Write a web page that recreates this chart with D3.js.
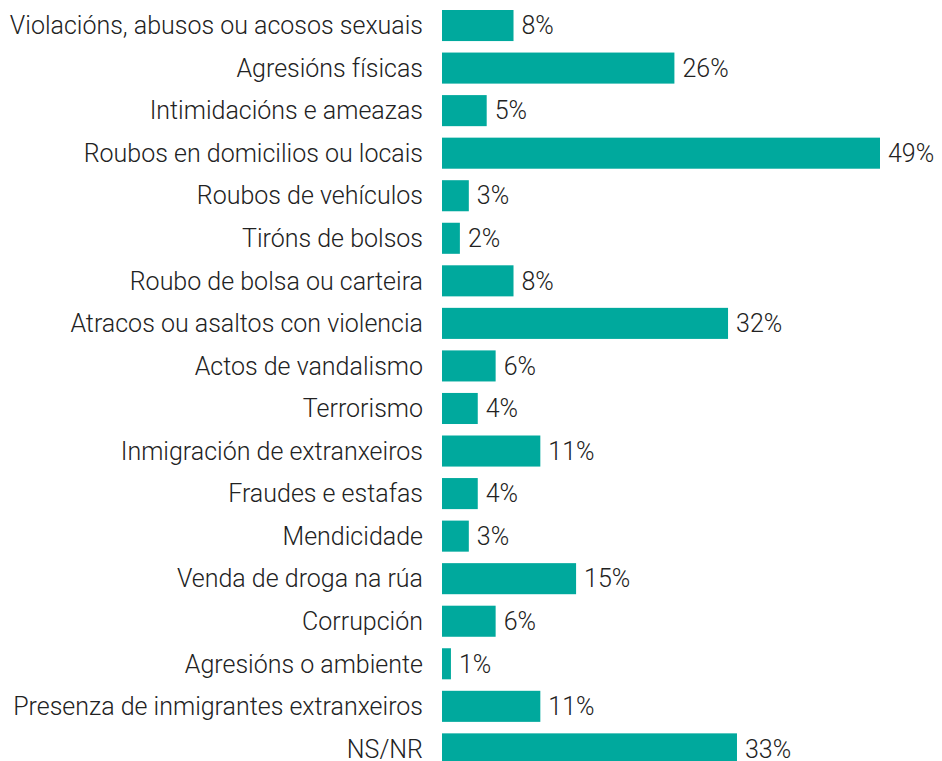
<!DOCTYPE html>
<html>
<head>
<meta charset="utf-8">
<script src="https://cdn.jsdelivr.net/npm/d3@7"></script>
<style>
  body { margin: 0; background: #fff; }
  text { font-family: Roboto, sans-serif; font-weight: 300; }
</style>
</head>
<body>
<div id="chart"></div>
<script>
// Data
const categories = [
  "Violacións, abusos ou acosos sexuais",
  "Agresións físicas",
  "Intimidacións e ameazas",
  "Roubos en domicilios ou locais",
  "Roubos de vehículos",
  "Tiróns de bolsos",
  "Roubo de bolsa ou carteira",
  "Atracos ou asaltos con violencia",
  "Actos de vandalismo",
  "Terrorismo",
  "Inmigración de extranxeiros",
  "Fraudes e estafas",
  "Mendicidade",
  "Venda de droga na rúa",
  "Corrupción",
  "Agresións o ambiente",
  "Presenza de inmigrantes extranxeiros",
  "NS/NR"
];
const values = [8, 26, 5, 49, 3, 2, 8, 32, 6, 4, 11, 4, 3, 15, 6, 1, 11, 33];

const width = 942, height = 761;

const svg = d3.select("#chart")
  .append("svg")
  .attr("width", width)
  .attr("height", height);

// Scales
const step = 42.55;
const x = d3.scaleLinear()
  .domain([0, 49])
  .range([442, 880]);

const y = d3.scaleBand()
  .domain(categories)
  .range([10, 10 + step * (categories.length - 0.27)])
  .paddingInner(0.27)
  .paddingOuter(0);

const rows = svg.selectAll("g.row")
  .data(categories.map((c, i) => ({ cat: c, val: values[i] })))
  .join("g")
  .attr("class", "row");

// Bars
rows.append("rect")
  .attr("x", x(0))
  .attr("y", d => y(d.cat))
  .attr("width", d => x(d.val) - x(0))
  .attr("height", y.bandwidth())
  .attr("fill", "#00a99d");

// Category labels
rows.append("text")
  .attr("x", 423)
  .attr("y", d => y(d.cat) + y.bandwidth() / 2)
  .attr("dy", "0.35em")
  .attr("text-anchor", "end")
  .attr("fill", "#222")
  .style("font-size", "25px")
  .text(d => d.cat);

// Value labels
rows.append("text")
  .attr("x", d => x(d.val) + 8)
  .attr("y", d => y(d.cat) + y.bandwidth() / 2)
  .attr("dy", "0.35em")
  .attr("fill", "#222")
  .style("font-size", "25px")
  .text(d => d.val + "%");
</script>
</body>
</html>
